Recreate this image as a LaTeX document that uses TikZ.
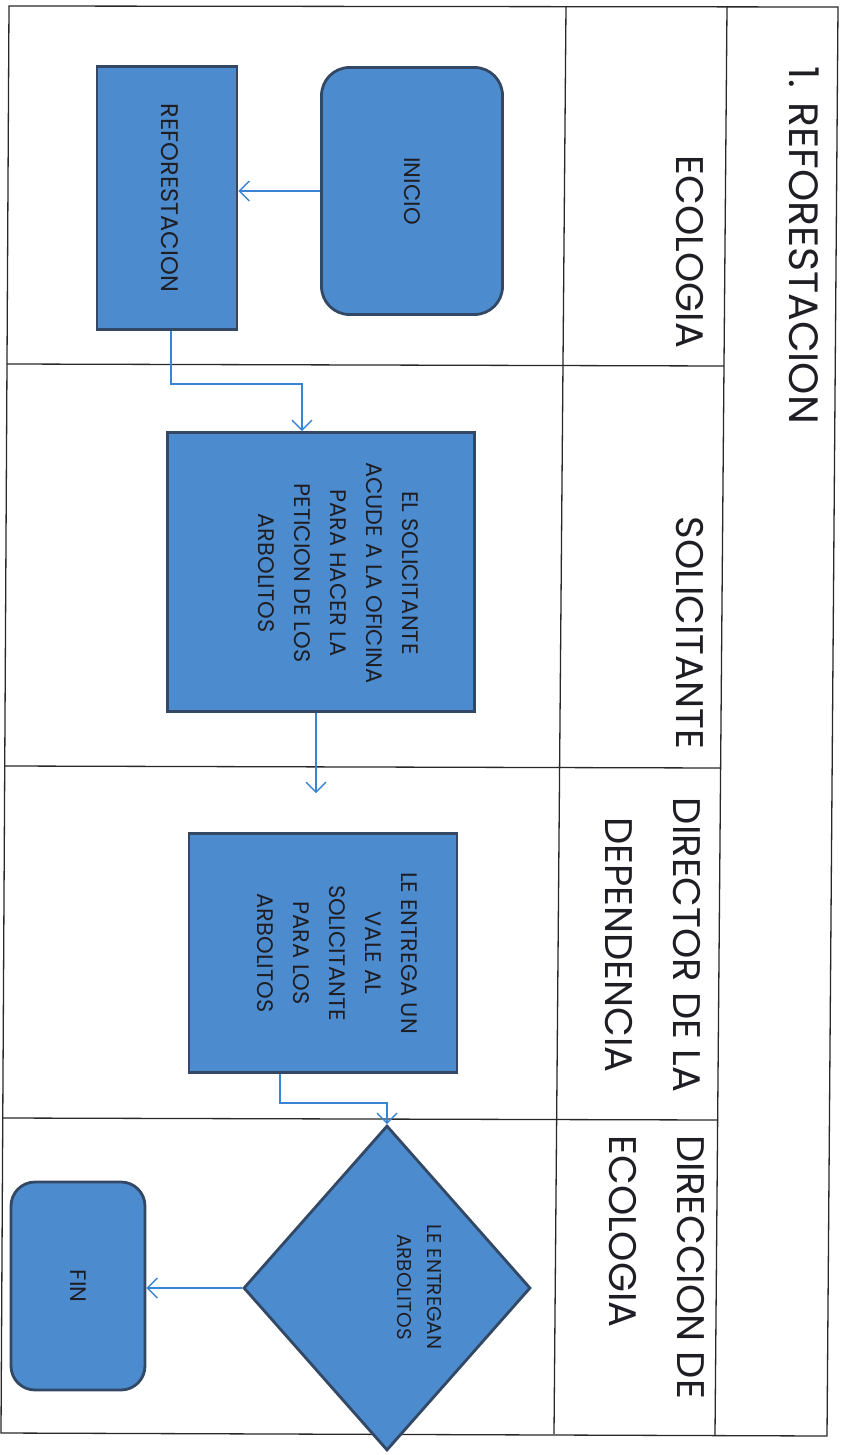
\documentclass[tikz,border=0pt]{standalone}
\usepackage{fontspec}
\setmainfont{Poppins}
\usetikzlibrary{shapes.geometric,arrows.meta}
\definecolor{boxfill}{RGB}{76,139,205}
\definecolor{boxdraw}{RGB}{50,72,100}
\definecolor{arrcol}{RGB}{58,132,212}
\definecolor{txtcol}{RGB}{30,30,36}
\definecolor{linecol}{RGB}{40,40,40}
\begin{document}
\begin{tikzpicture}[x=1pt,y=-1pt,
  tline/.style={line width=1.3pt, draw=linecol},
  box/.style={draw=boxdraw, fill=boxfill, line width=2.8pt, inner sep=0pt},
  rbox/.style={box, rounded corners=28pt},
  txt/.style={rotate=-90, align=center, text=txtcol, font=\fontsize{22.5}{36}\selectfont},
  hdr/.style={rotate=-90, text=txtcol, font=\fontsize{38.5}{68}\selectfont},
  arr/.style={draw=arrcol, line width=1.4pt, -{Straight Barb[length=10pt,width=20pt]}}
]
\useasboundingbox (0,0) rectangle (844,1455);
% table
\draw[tline] (9,6) -- (838,7) -- (827,1436) -- (1,1433) -- cycle;
\draw[tline] (727,7) -- (715,1435);
\draw[tline] (566,6) -- (554,1434);
\draw[tline] (7,364) -- (724,366);
\draw[tline] (5,766) -- (721,768);
\draw[tline] (3,1118) -- (718,1120);
% headers
\node[hdr, font=\fontsize{41}{48}\selectfont] (title) at (804,245) {1. REFORESTACION};
\node[hdr] (hEco) at (690,252) {ECOLOGIA};
\node[hdr] (hSol) at (690,633) {SOLICITANTE};
\node[hdr, align=center] (hDir) at (653,945) {DIRECTOR DE LA\\DEPENDENCIA};
\node[hdr, align=left, anchor=west] (hDec) at (657,1132) {DIRECCION DE\\ECOLOGIA};
% shapes
\node[rbox, minimum width=181pt, minimum height=247pt] (inicio) at (412,191) {};
\node[txt] (tinicio) at (inicio.center) {INICIO};
\node[box, minimum width=140pt, minimum height=263pt] (refo) at (167,198) {};
\node[txt, font=\fontsize{24}{36}\selectfont] (trefo) at (170,198) {REFORESTACION};
\node[box, minimum width=307pt, minimum height=279pt] (sol) at (321,572) {};
\node[txt] (tsol) at (338,573) {EL SOLICITANTE\\ACUDE A LA OFICINA\\PARA HACER LA\\PETICION DE LOS\\ARBOLITOS};
\node[box, minimum width=268pt, minimum height=239pt] (vale) at (323,953) {};
\node[txt] (tvale) at (337,953) {LE ENTREGA UN\\VALE AL\\SOLICITANTE\\PARA LOS\\ARBOLITOS};
\node[box, diamond, minimum width=287pt, minimum height=325pt] (dec) at (387,1288) {};
\node[txt, font=\fontsize{20}{30}\selectfont] (tdec) at (419,1287) {LE ENTREGAN\\ARBOLITOS};
\node[rbox, rounded corners=24pt, minimum width=134pt, minimum height=208pt] (fin) at (78,1286) {};
\node[txt] (tfin) at (fin.center) {FIN};
% connectors
\draw[arr] (inicio.west) -- (inicio.west -| refo.east);
\draw[arr] ([xshift=4pt]refo.south) -- ++(0,53) -| ([xshift=-19pt]sol.north);
\coordinate (solend) at (316,793);
\draw[arr] (sol.south -| solend) -- (solend);
\draw[arr] ([xshift=-43pt]vale.south) -- ++(0,29) -| (dec.north);
\draw[arr] (dec.west) -- (dec.west -| fin.east);
\end{tikzpicture}
\end{document}
